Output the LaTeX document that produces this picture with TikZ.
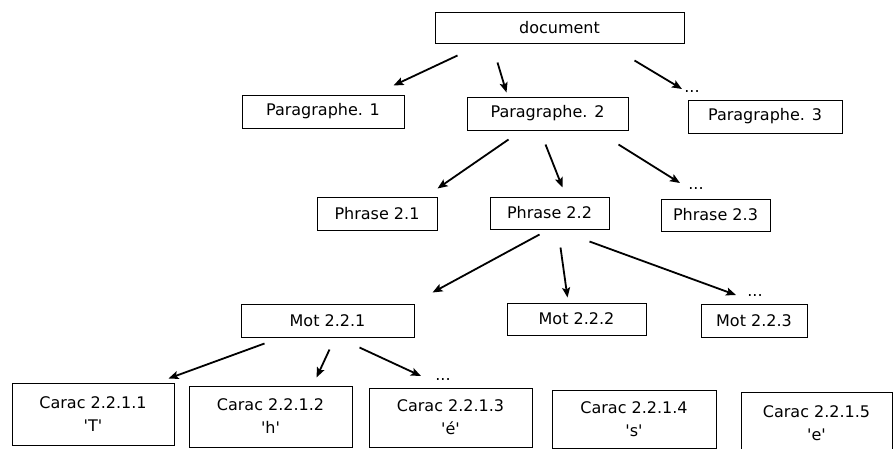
\documentclass[tikz,border=0pt]{standalone}
\usepackage{fontspec}
\setmainfont{DejaVu Sans}[Ligatures=TeXOff]
\usetikzlibrary{arrows.meta}

\begin{document}
\begin{tikzpicture}[x=1pt, y=-1pt,
    boite/.style={draw, line width=1pt, inner sep=0pt, align=center, font=\fontsize{16}{23}\selectfont},
    points/.style={inner sep=0pt, anchor=base, font=\fontsize{16}{23}\selectfont},
    fleche/.style={line width=1.8pt, -{Stealth[length=10pt, width=8pt, inset=2pt]}}]
	\useasboundingbox (0,0) rectangle (893,448);
	% niveau 0 et 1
	\node[boite, minimum width=249pt, minimum height=31pt] (doc) at (559.5,27.5) {document};
	\node[boite, minimum width=162pt, minimum height=33pt] (par1) at (323,111.5) {Paragraphe. 1};
	\node[boite, minimum width=161pt, minimum height=33pt] (par2) at (547.5,113.5) {Paragraphe. 2};
	\node[boite, minimum width=154pt, minimum height=33pt] (par3) at (765,116.5) {Paragraphe. 3};
	\node[points] (pts1) at (692,92) {...};
	% phrases
	\node[boite, minimum width=120pt, minimum height=33pt] (phr1) at (377,213.5) {Phrase 2.1};
	\node[boite, minimum width=119pt, minimum height=32pt] (phr2) at (549.5,213) {Phrase 2.2};
	\node[boite, minimum width=109pt, minimum height=32pt] (phr3) at (715.5,215) {Phrase 2.3};
	\node[points] (pts2) at (696,189) {...};
	% mots
	\node[boite, minimum width=173pt, minimum height=33pt] (mot1) at (327.5,320.5) {Mot 2.2.1};
	\node[boite, minimum width=139pt, minimum height=32pt] (mot2) at (576.5,319) {Mot 2.2.2};
	\node[boite, minimum width=106pt, minimum height=33pt] (mot3) at (754,320.5) {Mot 2.2.3};
	\node[points] (pts3) at (755,296) {...};
	% caracteres
	\node[boite, minimum width=162pt, minimum height=62pt] (car1) at (93,414) {Carac 2.2.1.1\\'T'};
	\node[boite, minimum width=163pt, minimum height=61pt] (car2) at (270.5,416.5) {Carac 2.2.1.2\\'h'};
	\node[boite, minimum width=163pt, minimum height=59pt] (car3) at (450.5,417.5) {Carac 2.2.1.3\\'é'};
	\node[boite, minimum width=164pt, minimum height=58pt] (car4) at (634,419) {Carac 2.2.1.4\\'s'};
	\node[boite, minimum width=151pt, minimum height=63pt] (car5) at (816.5,423.5) {Carac 2.2.1.5\\'e'};
	\node[points] (pts4) at (443,380) {...};
	% fleches
	\draw[fleche] ([shift={(23,12)}]doc.south west) -- ([shift={(-11,-9)}]par1.north east);
	\draw[fleche] ([shift={(63,19)}]doc.south west) -- ([shift={(40,-4)}]par2.north west);
	\draw[fleche] ([shift={(-50,17)}]doc.south east) -- ([shift={(-10,-3)}]pts1.base);
	\draw[fleche] ([shift={(42,9)}]par2.south west) -- ([shift={(0,-8)}]phr1.north east);
	\draw[fleche] ([shift={(79,14)}]par2.south west) -- ([shift={(73,-9)}]phr2.north west);
	\draw[fleche] ([shift={(-10,14)}]par2.south east) -- ([shift={(-16,-6)}]pts2.base);
	\draw[fleche] ([shift={(50,5)}]phr2.south west) -- ([shift={(18,-11)}]mot1.north east);
	\draw[fleche] ([shift={(71,18)}]phr2.south west) -- ([shift={(61,-5)}]mot2.north west);
	\draw[fleche] ([shift={(-20,12)}]phr2.south east) -- ([shift={(-19,-1)}]pts3.base);
	\draw[fleche] ([shift={(24,6)}]mot1.south west) -- ([shift={(-6,-4)}]car1.north east);
	\draw[fleche] ([shift={(89,12)}]mot1.south west) -- ([shift={(128,-8)}]car2.north west);
	\draw[fleche] ([shift={(119,10)}]mot1.south west) -- ([shift={(-22,-4)}]pts4.base);
\end{tikzpicture}
\end{document}
